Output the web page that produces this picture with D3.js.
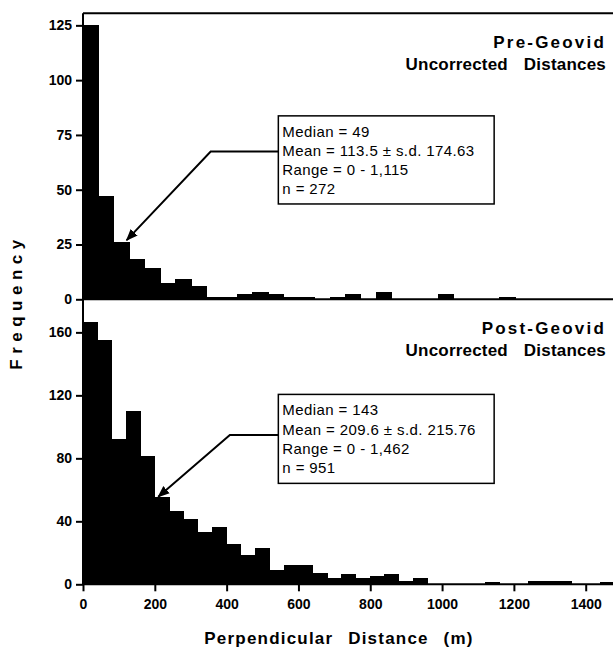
<!DOCTYPE html>
<html lang="en">
<head>
  <meta charset="UTF-8">
  <script src="https://cdn.jsdelivr.net/npm/d3@7"></script>
  <title>Perpendicular distance histograms</title>
  <style>
    body { margin: 0; background: #fff; }
    svg { display: block; font-family: "Liberation Sans", Arial, sans-serif; }
    .bar { fill: #000; stroke: #000; stroke-width: 1; shape-rendering: crispEdges; }
    .axis path, .axis line { stroke: #000; stroke-width: 2; }
    .axis text { font-size: 14px; font-weight: bold; fill: #000; }
    .title { font-size: 17px; font-weight: bold; }
    .note { font-size: 15px; letter-spacing: 0.4px; }
  </style>
</head>
<body>
<div id="chart"></div>

<script>
  // Pre-Geovid histogram (bins drawn a little wider in the original panel)
  var preBinWidth = 43;
  var preCounts = [125, 47, 26, 18, 14, 7, 9, 6, 1, 1, 2, 3, 2, 1, 1, 0, 1, 2, 0, 3, 0, 0, 0, 2, 0, 0, 0, 1];

  // Post-Geovid histogram, 40 m bins
  var postBinWidth = 40;
  var postCounts = [166, 155, 92, 110, 81, 55, 46, 41, 33, 36, 25, 18, 23, 9, 12, 12, 7, 4, 6, 4, 5, 6, 2, 4,
                    0, 0, 0, 0, 1, 0, 0, 2, 2, 2, 0, 0, 1];

  var xTicks = [0, 200, 400, 600, 800, 1000, 1200, 1400];
  var preTicks = [0, 25, 50, 75, 100, 125];
  var postTicks = [0, 40, 80, 120, 160];

  var preTitle = ["Pre-Geovid", "Uncorrected Distances"];
  var postTitle = ["Post-Geovid", "Uncorrected Distances"];
  var preNote = ["Median = 49", "Mean = 113.5 \u00b1 s.d. 174.63", "Range = 0 - 1,115", "n = 272"];
  var postNote = ["Median = 143", "Mean = 209.6 \u00b1 s.d. 215.76", "Range = 0 - 1,462", "n = 951"];

  var width = 613, height = 647;
  var left = 83, right = 613;

  var svg = d3.select("#chart").append("svg")
    .attr("width", width)
    .attr("height", height);

  var x = d3.scaleLinear().domain([0, 1476]).range([left, right]);

  var yPre = d3.scaleLinear().domain([0, 130.5]).range([299.3, 13.3]);
  var yPost = d3.scaleLinear().domain([0, 181]).range([584.3, 299.3]);

  function drawPanel(counts, binWidth, y, ticks, title, note, arrow) {
    var g = svg.append("g");

    g.selectAll(".bar")
      .data(counts)
      .enter()
      .append("rect")
      .attr("class", "bar")
      .attr("x", function (d, i) { return x(i * binWidth); })
      .attr("width", function (d, i) { return x((i + 1) * binWidth) - x(i * binWidth); })
      .attr("y", function (d) { return y(d); })
      .attr("height", function (d) { return y(0) - y(d); });

    // baseline
    g.append("line")
      .attr("x1", left).attr("x2", right)
      .attr("y1", y(0)).attr("y2", y(0))
      .attr("stroke", "#000").attr("stroke-width", 2);

    // y axis
    var ax = g.append("g")
      .attr("class", "axis")
      .attr("transform", "translate(" + left + ",0)")
      .call(d3.axisLeft(y).tickValues(ticks).tickSize(7).tickPadding(4).tickSizeOuter(0));
    ax.select(".domain").remove();

    // panel title, right aligned
    g.selectAll(".title")
      .data(title)
      .enter()
      .append("text")
      .attr("class", "title")
      .attr("x", 606)
      .attr("y", function (d, i) { return y.range()[1] + 35 + i * 21.6; })
      .attr("text-anchor", "end")
      .style("letter-spacing", function (d, i) { return i === 0 ? "2.2px" : "0.2px"; })
      .style("word-spacing", "11px")
      .text(function (d) { return d; });

    // stats box
    var bx0 = x(arrow.box[0]), bx1 = x(arrow.box[1]);
    var by0 = y(arrow.box[2]), by1 = y(arrow.box[3]);
    g.append("rect")
      .attr("x", bx0).attr("y", by0)
      .attr("width", bx1 - bx0).attr("height", by1 - by0)
      .attr("fill", "#fff").attr("stroke", "#000").attr("stroke-width", 1.5);

    g.selectAll(".note")
      .data(note)
      .enter()
      .append("text")
      .attr("class", "note")
      .attr("x", bx0 + 4)
      .attr("y", function (d, i) { return by0 + 21 + i * 19.2; })
      .text(function (d) { return d; });

    // pointer
    var pts = arrow.path.map(function (p) { return [x(p[0]), y(p[1])]; });
    g.append("path")
      .attr("d", d3.line()(pts))
      .attr("fill", "none")
      .attr("stroke", "#000")
      .attr("stroke-width", 2)
      .attr("marker-end", "url(#head)");
  }

  svg.append("defs").append("marker")
    .attr("id", "head")
    .attr("viewBox", "0 0 10 10")
    .attr("refX", 9).attr("refY", 5)
    .attr("markerWidth", 6).attr("markerHeight", 6)
    .attr("markerUnits", "strokeWidth")
    .attr("orient", "auto")
    .append("path")
    .attr("d", "M0,1 L10,5 L0,9 Z")
    .attr("fill", "#000");

  drawPanel(preCounts, preBinWidth, yPre, preTicks, preTitle, preNote,
    { box: [544, 1145, 83.7, 43.5], path: [[544, 67.4], [355.6, 67.4], [121.7, 27]] });
  drawPanel(postCounts, postBinWidth, yPost, postTicks, postTitle, postNote,
    { box: [544, 1145, 120.6, 64.1], path: [[544, 94.8], [409, 94.8], [209.7, 55.6]] });

  // frame: top line and left axis line
  svg.append("line")
    .attr("x1", left).attr("x2", right)
    .attr("y1", yPre.range()[1]).attr("y2", yPre.range()[1])
    .attr("stroke", "#000").attr("stroke-width", 2);
  svg.append("line")
    .attr("x1", left).attr("x2", left)
    .attr("y1", yPre.range()[1]).attr("y2", yPost(0))
    .attr("stroke", "#000").attr("stroke-width", 2);

  // x axis
  var xa = svg.append("g")
    .attr("class", "axis")
    .attr("transform", "translate(0," + yPost(0) + ")")
    .call(d3.axisBottom(x).tickValues(xTicks).tickFormat(d3.format("d")).tickSize(7).tickPadding(8).tickSizeOuter(0));
  xa.select(".domain").remove();

  // axis titles
  svg.append("text")
    .attr("class", "title")
    .attr("x", 339)
    .attr("y", 644)
    .attr("text-anchor", "middle")
    .style("letter-spacing", "1.2px")
    .style("word-spacing", "9px")
    .text("Perpendicular Distance (m)");

  svg.append("text")
    .attr("class", "title")
    .attr("transform", "translate(22,302) rotate(-90)")
    .attr("text-anchor", "middle")
    .style("letter-spacing", "5.5px")
    .text("Frequency");
</script>
</body>
</html>
